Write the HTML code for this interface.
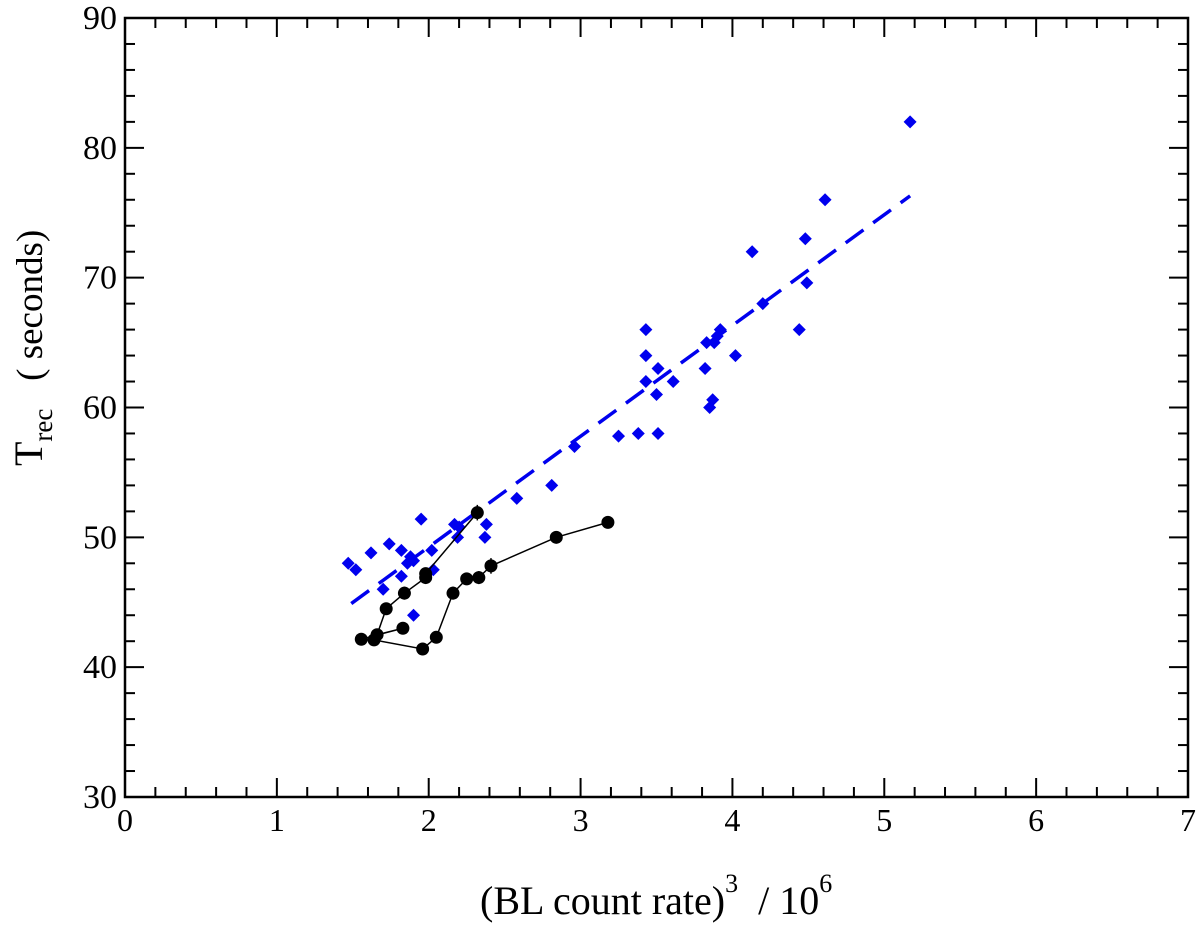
<!DOCTYPE html>
<html><head><meta charset="utf-8"><style>
body{margin:0;background:#fff}
svg text{font-family:"Liberation Serif",serif;fill:#000}
</style></head><body>
<svg id="chart" width="1200" height="925" viewBox="0 0 1200 925" xmlns="http://www.w3.org/2000/svg">
<rect x="125" y="18" width="1063" height="779" fill="none" stroke="#000" stroke-width="2.5"/>
<text x="480" y="914" font-size="40">(BL count rate)<tspan font-size="26" dy="-22">3</tspan><tspan dy="22" xml:space="preserve">  / 10</tspan><tspan font-size="26" dy="-22">6</tspan></text>
<text transform="translate(42,466) rotate(-90)" font-size="40">T<tspan font-size="27" dy="10">rec</tspan><tspan dy="-10" font-size="37" xml:space="preserve">   ( seconds)</tspan></text>
<g id="marks"></g>
</svg>
<script>
const xTicks=[0,1,2,3,4,5,6,7];
const yTicks=[30,40,50,60,70,80,90];
const blueX=[1.47,1.52,1.62,1.70,1.74,1.82,1.82,1.86,1.88,1.90,1.90,1.95,2.02,2.03,2.17,2.19,2.20,2.37,2.38,2.58,2.81,2.96,3.25,3.38,3.43,3.43,3.43,3.51,3.50,3.51,3.61,3.82,3.83,3.85,3.87,3.88,3.90,3.92,4.02,4.13,4.20,4.44,4.48,4.49,4.61,5.17];
const blueY=[48,47.5,48.8,46,49.5,49,47,48,48.5,48.2,44,51.4,49,47.5,51,50,50.8,50,51,53,54,57,57.8,58,66,64,62,63,61,58,62,63,65,60,60.6,65,65.5,66,64,72,68,66,73,69.6,76,82];
const blackX=[2.32,1.98,1.98,1.84,1.72,1.66,1.83,1.556,1.64,1.96,2.05,2.16,2.25,2.33,2.41,2.84,3.18];
const blackY=[51.9,47.2,46.9,45.7,44.5,42.5,43,42.15,42.1,41.4,42.3,45.7,46.8,46.9,47.8,50,51.15];
const blackErr=[0.6,0.3,0.3,0.5,0.3,0.3,0.2,0.2,0.2,0.2,0.3,0.5,0.4,0.5,0.6,0.3,0.3];
const fitX=[1.49,5.17];
const fitY=[44.9,76.3];
const NS='http://www.w3.org/2000/svg';
const X0=125,X1=1188,Y0=797,Y1=18;
const sx=v=>X0+(v-0)/7*(X1-X0);
const sy=v=>Y0-(v-30)/60*(Y0-Y1);
const g=document.getElementById('marks');
function mk(t,a,p){const e=document.createElementNS(NS,t);for(const k in a)e.setAttribute(k,a[k]);(p||g).appendChild(e);return e;}
for(let i=0;i<=35;i++){const v=i*0.2;const L=i%5===0?19:10;
 const t=mk('line',{x1:sx(v),x2:sx(v),y1:Y0,y2:Y0-L,stroke:'#000','stroke-width':2});
 
 const t2=mk('line',{x1:sx(v),x2:sx(v),y1:Y1,y2:Y1+L,stroke:'#000','stroke-width':2});
 }
xTicks.forEach(v=>{const t=mk('text',{x:sx(v),y:Y0+34,'font-size':32,'text-anchor':'middle'});t.textContent=v;
 });
for(let i=0;i<=30;i++){const v=30+i*2;const L=i%5===0?19:10;
 const t=mk('line',{x1:X0,x2:X0+L,y1:sy(v),y2:sy(v),stroke:'#000','stroke-width':2});
 
 const t2=mk('line',{x1:X1,x2:X1-L,y1:sy(v),y2:sy(v),stroke:'#000','stroke-width':2});
 }
yTicks.forEach(v=>{const t=mk('text',{x:X0-8,y:sy(v)+11,'font-size':34,'text-anchor':'end'});t.textContent=v;
 });
const fl=mk('line',{x1:sx(fitX[0]),y1:sy(fitY[0]),x2:sx(fitX[1]),y2:sy(fitY[1]),stroke:'#0000ee','stroke-width':3.5,'stroke-dasharray':'22,12'});

blueX.forEach((v,i)=>{const cx=sx(v),cy=sy(blueY[i]),r=6.5;
 const p=mk('polygon',{points:`${cx},${cy-r} ${cx+r},${cy} ${cx},${cy+r} ${cx-r},${cy}`,fill:'#0000ee'});
 });
const pts=blackX.map((v,i)=>sx(v)+','+sy(blackY[i])).join(' ');
const pl=mk('polyline',{points:pts,fill:'none',stroke:'#000','stroke-width':1.5});

blackX.forEach((v,i)=>{
 const e=mk('line',{x1:sx(v),x2:sx(v),y1:sy(blackY[i]+blackErr[i]),y2:sy(blackY[i]-blackErr[i]),stroke:'#000','stroke-width':1.5});
 
 const c=mk('circle',{cx:sx(v),cy:sy(blackY[i]),r:6.5,fill:'#000'});
 });
</script>
</body></html>
